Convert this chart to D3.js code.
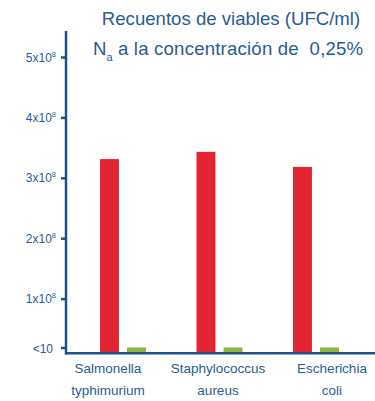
<!DOCTYPE html>
<html><head><meta charset="utf-8">
<script src="https://cdn.jsdelivr.net/npm/d3@7/dist/d3.min.js"></script>
<style>body{margin:0;background:#fff}svg{display:block}</style>
</head><body>
<svg id="c" width="375" height="401"></svg>
<script>
const categories = [["Salmonella","typhimurium"],["Staphylococcus","aureus"],["Escherichia","coli"]];
const seriesNames = ["Control","NaCl 0,25%"];
const controlValues = [3.31e8, 3.43e8, 3.18e8];
const treatedValues = [10, 10, 10]; // <10 UFC/ml
const tickValues = [10, 1e8, 2e8, 3e8, 4e8, 5e8];
const tickMant = ["<10", "1x10", "2x10", "3x10", "4x10", "5x10"];
const tickExp = ["", "8", "8", "8", "8", "8"];

const svg = d3.select("#c");
const axisColor = "#1d4f88", textColor = "#2a5c92";
const red = "#e32433", green = "#8cb43a";
const font = "Liberation Sans, Arial, sans-serif";

const y = d3.scaleLinear().domain([0, 10, 1e8, 5e8]).range([352, 347.5, 298.6, 57]);
const x0 = d3.scalePoint().domain(d3.range(categories.length)).range([100, 293]);
const x1 = d3.scaleBand().domain([0,1]).range([0, 46]).paddingInner(0.3);

// bars
const g = svg.append("g");
categories.forEach((c, i) => {
  [controlValues[i], treatedValues[i]].forEach((v, s) => {
    g.append("rect")
      .attr("x", x0(i) + x1(s))
      .attr("y", y(v))
      .attr("width", x1.bandwidth())
      .attr("height", y(0) - y(v))
      .attr("fill", s===0 ? red : green);
  });
});

// y axis
const yAxis = d3.axisLeft(y).tickValues(tickValues).tickSize(5).tickFormat("");
const ya = svg.append("g").attr("transform", "translate(66,0)").call(yAxis);
ya.select(".domain").remove();
ya.selectAll(".tick line").attr("stroke", axisColor).attr("stroke-width", 2.5);
ya.append("line").attr("x1",0).attr("x2",0).attr("y1",31).attr("y2",354.5).attr("stroke",axisColor).attr("stroke-width",2.5);
ya.selectAll(".tick").each(function(d, i) {
  const t = d3.select(this).append("text").attr("x", i===0 ? -13 : -10).attr("y", i===0 ? 4.5 : 4)
    .attr("text-anchor", "end").attr("fill", textColor)
    .style("font-family", font).style("font-size", "12px");
  t.append("tspan").text(tickMant[i]);
  if (tickExp[i]) t.append("tspan").attr("dy", -5).style("font-size", "7.5px").text(tickExp[i]);
});
// x axis
svg.append("line").attr("x1", 65).attr("x2", 375).attr("y1", 353.3).attr("y2", 353.3).attr("stroke", axisColor).attr("stroke-width", 2.5);

// category labels
categories.forEach((c, i) => {
  c.forEach((line, k) => {
    svg.append("text").attr("x", [108, 218, 332][i]).attr("y", 373 + k*22).attr("text-anchor","middle")
      .attr("fill", textColor).style("font-family", font).style("font-size","13.5px")
      .text(line);
  });
});

// title
const title = svg.append("g").style("font-family", font).attr("fill", textColor);
title.append("text").attr("x", 231).attr("y", 25).attr("text-anchor","middle").style("font-size","18.6px").text("Recuentos de viables (UFC/ml)");
const t2 = title.append("text").attr("x", 93).attr("y", 55).style("font-size","18.6px").style("white-space","pre");
t2.append("tspan").text("N");
t2.append("tspan").attr("dy", 6).style("font-size","11px").text("a");
t2.append("tspan").attr("dy", -6).style("letter-spacing","0.2px").text(" a la concentración de  0,25%");
</script>
</body></html>
